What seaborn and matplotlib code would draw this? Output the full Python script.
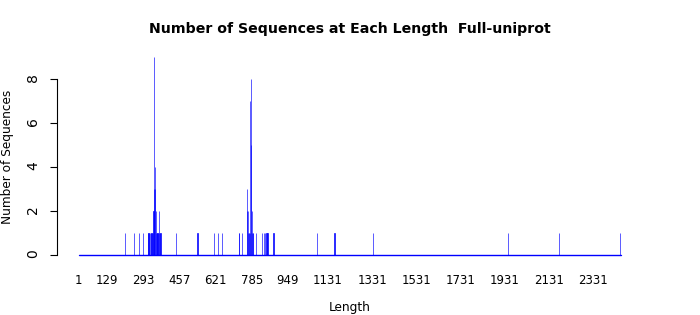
import matplotlib
matplotlib.use("Agg")
import matplotlib.pyplot as plt
import seaborn as sns
import pandas as pd

# ---- data ----
length_min = 1
length_max = 2457
seq_lengths = [209, 250, 273, 292,
               315, 317, 320, 324, 328, 331, 334,
               338, 340, 342, 344, 346, 348, 350, 352, 354, 356, 358, 361, 364, 366, 369, 372,
               441, 539, 614, 634, 649,
               726, 729, 740,
               762, 765, 767, 769, 772, 774, 776, 779, 781, 783, 785, 787, 790, 792,
               803, 833, 841, 845, 852, 857, 884,
               1081, 1160, 1336, 1948, 2177, 2455]
seq_counts = [1, 1, 1, 1,
              1, 1, 1, 1, 1, 1, 1,
              1, 2, 3, 9, 4, 3, 2, 1, 1, 1, 1, 1, 2, 1, 1, 1,
              1, 1, 1, 1, 1,
              1, 1, 1,
              2, 3, 2, 1, 1, 1, 1, 7, 5, 8, 1, 2, 1, 1,
              1, 1, 1, 1, 1, 1, 1,
              1, 1, 1, 1, 1, 1]
tick_labels = [1, 129, 293, 457, 621, 785, 949, 1131, 1331, 1531, 1731, 1931, 2131, 2331]
y_ticks = [0, 2, 4, 6, 8]

title = "Number of Sequences at Each Length  Full-uniprot"
x_label = "Length"
y_label = "Number of Sequences"

# every length in the range; lengths without sequences have a count of 0
all_lengths = list(range(length_min, length_max + 1))
counts = pd.Series(seq_counts, index=seq_lengths).reindex(all_lengths, fill_value=0)
df = pd.DataFrame({"length": all_lengths, "count": counts.values})

sns.set_style("white")
plt.rcParams["font.family"] = ["DejaVu Sans"]
plt.rcParams["text.color"] = "black"
plt.rcParams["axes.labelcolor"] = "black"

W, H = 700, 315
fig = plt.figure(figsize=(W / 100, H / 100), dpi=100)
ax_left, ax_right, ax_top, ax_bottom = 78.6, 620.7, 57, 255
ax = fig.add_axes([ax_left / W, 1 - ax_bottom / H,
                   (ax_right - ax_left) / W, (ax_bottom - ax_top) / H])

sns.barplot(data=df, x="length", y="count", order=all_lengths,
            color="blue", saturation=1, edgecolor="blue", linewidth=0.45,
            errorbar=None, ax=ax)
# zero-count bars show as a line along the base
ax.axhline(0, color="blue", lw=1.0, zorder=3, clip_on=False)

ax.set_xlim(-0.5, len(all_lengths) - 0.5)
ax.set_ylim(0, 9)

tick_pos = [all_lengths.index(t) for t in tick_labels]
ax.set_xticks(tick_pos)
ax.set_xticklabels([str(t) for t in tick_labels], fontsize=8.5)
ax.set_yticks(y_ticks)
ax.set_yticklabels([str(t) for t in y_ticks], fontsize=8.5)

ax.tick_params(axis="x", length=0, pad=14, colors="black")
ax.tick_params(axis="y", length=5, width=0.8, pad=7, colors="black", left=True,
               labelrotation=90)
for lab in ax.get_yticklabels():
    lab.set_verticalalignment("center")

for s in ["top", "right", "bottom"]:
    ax.spines[s].set_visible(False)
ax.spines["left"].set_position(("outward", 15.5))
ax.spines["left"].set_bounds(0, 8)
ax.spines["left"].set_color("black")
ax.spines["left"].set_linewidth(0.8)

ax.set_xlabel(x_label, fontsize=8.7, va="center")
ax.xaxis.set_label_coords(0.5, (ax_bottom - 307) / (ax_bottom - ax_top))
ax.set_ylabel(y_label, fontsize=8.7, va="center")
ax.yaxis.set_label_coords((8 - ax_left) / (ax_right - ax_left),
                          (ax_bottom - 157) / (ax_bottom - ax_top))

fig.text(0.5, 1 - 29 / H, title, ha="center", va="center",
         fontsize=10.2, fontweight="bold", color="black")

fig.savefig("out.png", dpi=100)
